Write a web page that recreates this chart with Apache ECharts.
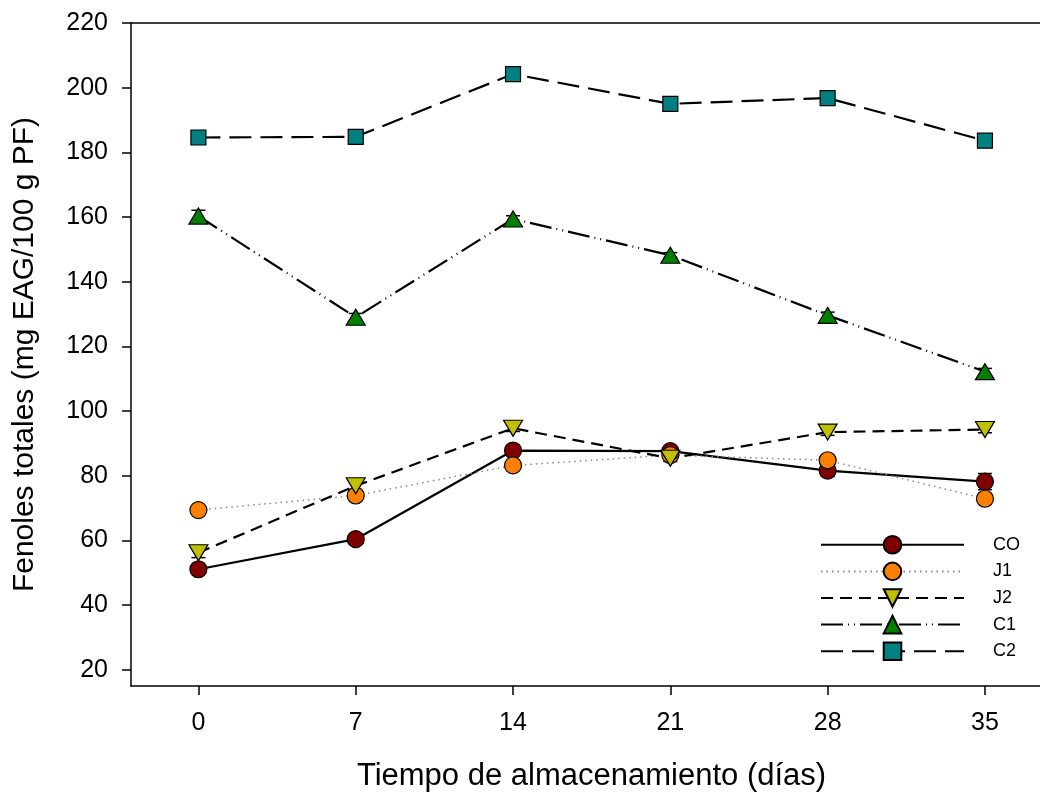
<!DOCTYPE html>
<html>
<head>
<meta charset="utf-8">
<script src="https://cdn.jsdelivr.net/npm/echarts@6/dist/echarts.min.js"></script>
<style>
html,body{margin:0;padding:0;background:#fff;}
#chart{width:1040px;height:797px;}
</style>
</head>
<body>
<div id="chart"></div>
<script>
// ---- data ----
const days = [0, 7, 14, 21, 28, 35];
const xTicks = [0, 7, 14, 21, 28, 35];
const yTicks = [20, 40, 60, 80, 100, 120, 140, 160, 180, 200, 220];
const seriesNames = ['CO', 'J1', 'J2', 'C1', 'C2'];
const CO = [51.1, 60.4, 87.8, 87.6, 81.6, 78.2];
const J1 = [69.4, 73.9, 83.2, 86.4, 84.8, 72.9];
const J2 = [56.2, 76.9, 94.7, 85.4, 93.5, 94.3];
const C1 = [160.3, 129.0, 159.4, 148.2, 129.6, 112.2];
const C2 = [184.6, 184.8, 204.2, 195.0, 196.8, 183.6];
const errCO = [1.2, 1.5, 1.0, 1.0, 1.8, 2.5];
const errJ1 = [0.6, 1.0, 0.6, 0.6, 1.0, 1.5];
const errJ2 = [1.5, 1.5, 1.0, 1.0, 1.0, 1.0];
const errC1 = [1.8, 1.2, 1.0, 0.8, 1.0, 1.0];
const errC2 = [1.0, 1.0, 1.0, 1.0, 1.0, 1.0];

const FONT = '"Liberation Sans", Arial, sans-serif';
const values = [CO, J1, J2, C1, C2];
const errs = [errCO, errJ1, errJ2, errC1, errC2];
const styles = [
  {color: '#800000', symbol: 'circle', size: 17, rotate: 0, line: {color: '#000', width: 2.2, type: 'solid'}},
  {color: '#ff8000', symbol: 'circle', size: 17, rotate: 0, line: {color: '#888', width: 1.5, type: [1.5, 4]}},
  {color: '#c0c000', symbol: 'triangle', size: [19, 16], rotate: 180, line: {color: '#000', width: 2.2, type: [12, 7]}},
  {color: '#008000', symbol: 'triangle', size: [19, 16], rotate: 0, line: {color: '#000', width: 2.2, type: [22, 5, 1, 5, 1, 5]}},
  {color: '#008080', symbol: 'rect', size: 15, rotate: 0, line: {color: '#000', width: 2.2, type: [22, 9]}}
];

const series = [];
seriesNames.forEach(function (name, i) {
  series.push({
    type: 'custom',
    name: name + '_err',
    silent: true,
    z: 1,
    data: days.map(function (d, k) { return [d, values[i][k], errs[i][k]]; }),
    renderItem: function (params, api) {
      const x = api.value(0), y = api.value(1), e = api.value(2);
      const top = api.coord([x, y + e]);
      const bot = api.coord([x, y - e]);
      const hw = 7;
      const s = {stroke: '#000', lineWidth: 1.5};
      return {type: 'group', children: [
        {type: 'line', shape: {x1: top[0], y1: top[1], x2: bot[0], y2: bot[1]}, style: s},
        {type: 'line', shape: {x1: top[0] - hw, y1: top[1], x2: top[0] + hw, y2: top[1]}, style: s},
        {type: 'line', shape: {x1: bot[0] - hw, y1: bot[1], x2: bot[0] + hw, y2: bot[1]}, style: s}
      ]};
    }
  });
});
seriesNames.forEach(function (name, i) {
  const st = styles[i];
  series.push({
    type: 'line',
    name: name,
    z: 2 + i,
    data: days.map(function (d, k) { return [d, values[i][k]]; }),
    symbol: st.symbol,
    symbolSize: st.size,
    symbolRotate: st.rotate,
    showAllSymbol: true,
    itemStyle: {color: st.color, borderColor: '#000', borderWidth: 1.2},
    lineStyle: st.line,
    emphasis: {disabled: true},
    animation: false
  });
});

const chart = echarts.init(document.getElementById('chart'), null, {renderer: 'canvas'});
chart.setOption({
  backgroundColor: '#fff',
  animation: false,
  grid: {left: 131, right: 0, top: 23, bottom: 111, containLabel: false, outerBoundsMode: 'none'},
  legend: {
    data: seriesNames,
    orient: 'vertical',
    left: 815,
    top: 530,
    itemWidth: 143,
    itemHeight: 22,
    itemGap: 7,
    selectedMode: false,
    textStyle: {fontFamily: FONT, fontSize: 18, color: '#000', padding: [0, 0, 0, 24]}
  },
  xAxis: [{
    type: 'value',
    min: -3,
    max: 37.45,
    position: 'bottom',
    name: 'Tiempo de almacenamiento (días)',
    nameLocation: 'middle',
    nameGap: 75,
    nameTextStyle: {fontFamily: FONT, fontSize: 31, color: '#000', padding: [0, 0, 0, 12]},
    axisLine: {show: true, onZero: false, lineStyle: {color: '#000', width: 1.5}},
    axisTick: {show: true, inside: false, length: 9, lineStyle: {color: '#000', width: 1.5}, customValues: xTicks},
    axisLabel: {show: true, fontFamily: FONT, fontSize: 25, color: '#000', margin: 25, customValues: xTicks},
    splitLine: {show: false}
  }, {
    type: 'value',
    min: -3,
    max: 37.45,
    position: 'top',
    axisLine: {show: true, onZero: false, lineStyle: {color: '#000', width: 1.5}},
    axisTick: {show: false},
    axisLabel: {show: false},
    splitLine: {show: false}
  }],
  yAxis: {
    type: 'value',
    min: 15,
    max: 220,
    name: 'Fenoles totales (mg EAG/100 g PF)',
    nameLocation: 'middle',
    nameGap: 91,
    nameTextStyle: {fontFamily: FONT, fontSize: 30, color: '#000'},
    axisLine: {show: true, onZero: false, lineStyle: {color: '#000', width: 1.5}},
    axisTick: {show: true, inside: false, length: 9, lineStyle: {color: '#000', width: 1.5}, customValues: yTicks},
    axisLabel: {show: true, fontFamily: FONT, fontSize: 25, color: '#000', margin: 23, customValues: yTicks},
    splitLine: {show: false}
  },
  series: series
});
</script>
</body>
</html>
